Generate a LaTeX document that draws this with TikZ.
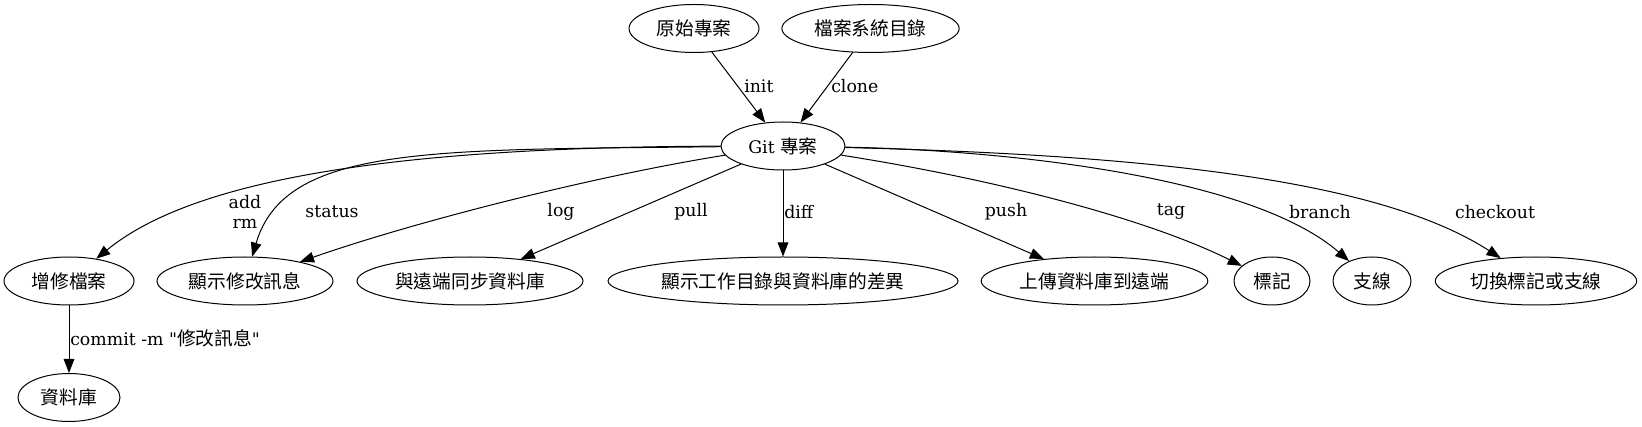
\documentclass[tikz,border=0pt]{standalone}
\usepackage{fontspec}
\setmainfont[Ligatures=TeXOff]{DejaVu Serif}
\newfontfamily\cjk[Scale=1.08]{Noto Sans CJK TC}
\usetikzlibrary{arrows.meta,shapes.geometric}

\begin{document}
\begin{tikzpicture}[
  x=0.75pt, y=-0.75pt,
  font=\fontsize{13pt}{15pt}\selectfont,
  gnode/.style={
    ellipse, draw, line width=0.75pt, inner sep=0pt,
    minimum height=36pt, minimum width=#1
  },
  gedge/.style={
    -{Triangle[length=10.5pt,width=8pt]}, line width=0.75pt
  },
  elabel/.style={
    inner sep=0pt
  }
  ]
  \useasboundingbox (0,0) rectangle (1642,427);
  \node[gnode=97.5pt] (orig) at (694,28.5) {\cjk 原始專案};
  \node[gnode=133pt] (fsdir) at (870.5,28.5) {\cjk 檔案系統目錄};
  \node[gnode=93pt] (git) at (783,146) {Git {\cjk 專案}};
  \node[gnode=97.5pt] (addf) at (69,281) {\cjk 增修檔案};
  \node[gnode=132pt] (showmod) at (245,281) {\cjk 顯示修改訊息};
  \node[gnode=169.5pt] (sync) at (470,281) {\cjk 與遠端同步資料庫};
  \node[gnode=262.5pt] (diffwd) at (783,281) {\cjk 顯示工作目錄與資料庫的差異};
  \node[gnode=170pt] (upload) at (1094.5,281) {\cjk 上傳資料庫到遠端};
  \node[gnode=57pt] (tagn) at (1272,281) {\cjk 標記};
  \node[gnode=58.5pt] (branchn) at (1372,281) {\cjk 支線};
  \node[gnode=151pt] (checkoutn) at (1536,281) {\cjk 切換標記或支線};
  \node[gnode=76.5pt] (repo) at (69,397.5) {\cjk 資料庫};

  \draw[gedge] (orig) -- (git);
  \draw[gedge] (fsdir) -- (git);
  \draw[gedge] (git) .. controls (400,147) and (195,178) .. (addf);
  \draw[gedge] (git) .. controls (430,150) and (285,145) .. (showmod);
  \draw[gedge] (git) .. controls (600,175) and (420,220) .. (showmod);
  \draw[gedge] (git) -- (sync);
  \draw[gedge] (git) -- (diffwd);
  \draw[gedge] (git) -- (upload);
  \draw[gedge] (git) .. controls (1000,180) and (1150,220) .. (tagn);
  \draw[gedge] (git) .. controls (1000,150) and (1250,175) .. (branchn);
  \draw[gedge] (git) .. controls (1150,155) and (1380,180) .. (checkoutn);
  \draw[gedge] (addf) -- (repo);

  \node[elabel, anchor=west] (lbl-init) at (744,86) {init};
  \node[elabel, anchor=west] (lbl-clone) at (831,86) {clone};
  \node[elabel, align=center] (lbl-add) at (245,212) {add\\rm};
  \node[elabel] (lbl-status) at (332,212) {status};
  \node[elabel] (lbl-log) at (561,212) {log};
  \node[elabel] (lbl-pull) at (691,212) {pull};
  \node[elabel, anchor=west] (lbl-diff) at (784,212) {diff};
  \node[elabel] (lbl-push) at (1006,212) {push};
  \node[elabel] (lbl-tag) at (1171,212) {tag};
  \node[elabel] (lbl-branch) at (1320,212) {branch};
  \node[elabel] (lbl-checkout) at (1495,212) {checkout};
  \node[elabel, anchor=west] (lbl-commit) at (70,338) {commit -m "{\cjk 修改訊息}"};
\end{tikzpicture}
\end{document}
